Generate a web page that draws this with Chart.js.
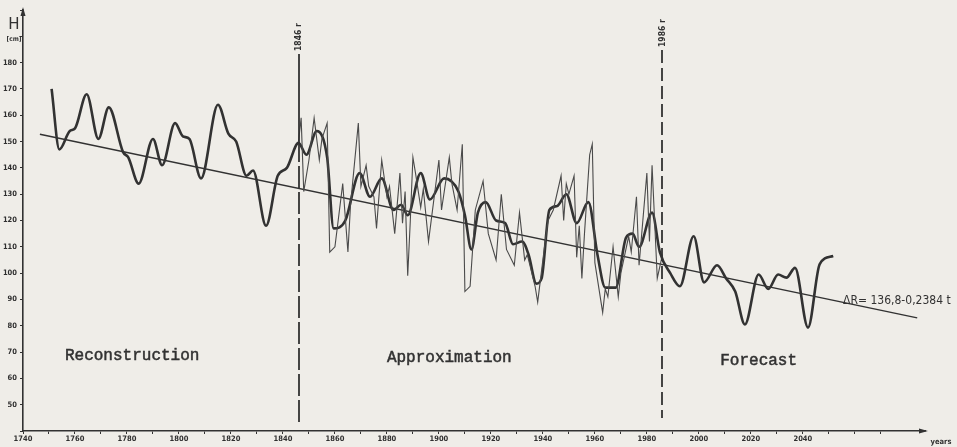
<!DOCTYPE html>
<html>
<head>
<meta charset="utf-8">
<script src="https://cdn.jsdelivr.net/npm/chart.js@4.4.1/dist/chart.umd.min.js"></script>
<style>
  body { margin: 0; background: #efede8; }
  canvas { display: block; }
</style>
</head>
<body>
<canvas id="myChart" width="957" height="447"></canvas>
<script>
// smoothed water level H [cm]: reconstruction, approximation, forecast
const smoothYears = [1751, 1754, 1758, 1760, 1764.5, 1769, 1773, 1778.5, 1780.5, 1784.5, 1790, 1793.5,
  1798.5, 1801.5, 1804, 1808.5, 1815, 1819, 1822, 1826, 1828.5, 1833.5, 1838, 1841.5, 1846, 1849,
  1853, 1857, 1859.5, 1864, 1869.5, 1873.5, 1878, 1882.5, 1885.5, 1888, 1893, 1896.5, 1902, 1907.5,
  1910, 1912.5, 1915, 1918, 1922, 1925.5, 1928.5, 1932, 1934.5, 1937.5, 1939.5, 1942.5, 1945.5, 1949,
  1953, 1957.5, 1961, 1964, 1968, 1972, 1974.5, 1977, 1982, 1985, 1989, 1992.7, 1998, 2002, 2007,
  2010.5, 2014, 2017.7, 2023, 2026.7, 2030.5, 2033.7, 2037, 2042, 2046.5, 2051.7];
const smoothValues = [170, 147, 154, 155, 168, 151, 163, 146, 144, 134, 151, 141,
  157, 152, 151, 136, 164, 153, 150, 137, 139, 118, 137, 140, 149.5, 145,
  154, 144, 117, 120, 138, 129, 136, 124, 126, 122, 138, 128, 136, 131,
  122, 109, 123, 127, 120, 119, 111, 112, 107, 96, 98, 124, 125.5, 130,
  119, 127, 107, 94.5, 94.5, 113.5, 115, 110, 123, 108, 100, 95, 114, 96.5, 103,
  98, 93, 80.5, 99.5, 94, 99.5, 98.3, 102, 79.3, 103.4, 106.5];

// observed annual levels
const obsYears = [1846, 1847, 1848, 1850, 1852, 1854, 1855, 1857, 1858, 1860, 1861, 1863, 1865, 1866,
  1869, 1870, 1872, 1873, 1875, 1876, 1878, 1880, 1881, 1883, 1885, 1886, 1887, 1888, 1889, 1890,
  1891, 1893, 1894, 1896, 1900, 1901, 1904, 1905, 1907, 1909, 1910, 1912, 1914, 1917, 1919, 1922,
  1924, 1926, 1929, 1931, 1933, 1934, 1937, 1938, 1941, 1942, 1944, 1947, 1948, 1949, 1950, 1952,
  1953, 1954, 1955, 1956, 1958, 1959, 1960, 1963, 1964, 1965, 1967, 1969, 1970, 1973, 1974, 1976,
  1977, 1980, 1981, 1982, 1984, 1986];
const obsValues = [150, 159, 131, 143, 159, 143, 151, 157, 108, 110, 118, 134, 108, 126,
  157, 133, 141, 133, 129, 117, 143, 129, 133, 115, 138, 119, 131, 99, 120, 144,
  138, 125, 132, 112, 143, 124, 144, 134, 124, 149, 93, 95, 124, 135, 115, 105,
  130, 109, 103, 123, 105, 107, 95, 89, 113, 120, 124, 137, 120, 134, 130, 137,
  106, 118, 98, 115, 145, 149, 104, 85, 94, 91, 110, 91, 100, 114, 108, 129,
  103, 138, 112, 141, 98, 107];

// linear trend  ΔR = 136,8 - 0,2384 t
const trendYears = [1746.5, 2084];
const trendValues = [152.8, 83];

const markYears = [1846, 1986];
const markLabels = ['1846 r', '1986 r'];
const sectionNames = ['Reconstruction', 'Approximation', 'Forecast'];

const ink = '#323232';

function pts(xs, ys) {
  return xs.map((x, i) => ({ x: x, y: ys[i] }));
}

const decor = {
  id: 'decor',
  afterDraw(chart) {
    const ctx = chart.ctx;
    const xs = chart.scales.x, ys = chart.scales.y, area = chart.chartArea;
    ctx.save();
    ctx.strokeStyle = ink;
    ctx.fillStyle = ink;

    // vertical boundary lines
    ctx.lineWidth = 1.8;
    let x = Math.round(xs.getPixelForValue(markYears[0]));
    ctx.beginPath(); ctx.moveTo(x, 54); ctx.lineTo(x, 140); ctx.stroke();
    ctx.setLineDash([22, 4]);
    ctx.beginPath(); ctx.moveTo(x, 140); ctx.lineTo(x, 424); ctx.stroke();
    x = Math.round(xs.getPixelForValue(markYears[1]));
    ctx.setLineDash([13, 5]);
    ctx.beginPath(); ctx.moveTo(x, 50); ctx.lineTo(x, 418); ctx.stroke();
    ctx.setLineDash([]);

    ctx.font = 'bold 8.5px "DejaVu Sans Condensed", "DejaVu Sans", sans-serif';
    ctx.textAlign = 'left';
    ctx.textBaseline = 'middle';
    markYears.forEach((yr, i) => {
      const px = xs.getPixelForValue(yr);
      ctx.save();
      ctx.translate(px, i === 0 ? 51 : 47);
      ctx.rotate(-Math.PI / 2);
      ctx.fillText(markLabels[i], 0, 0);
      ctx.restore();
    });

    // arrows at axis ends
    ctx.beginPath();
    ctx.moveTo(area.left, area.top - 3);
    ctx.lineTo(area.left - 2.5, area.top + 6);
    ctx.lineTo(area.left + 2.5, area.top + 6);
    ctx.closePath(); ctx.fill();
    ctx.beginPath();
    ctx.moveTo(area.right + 3, area.bottom);
    ctx.lineTo(area.right - 6, area.bottom - 2.5);
    ctx.lineTo(area.right - 6, area.bottom + 2.5);
    ctx.closePath(); ctx.fill();

    // axis titles
    ctx.textAlign = 'center';
    ctx.textBaseline = 'alphabetic';
    ctx.font = '15px "DejaVu Sans", sans-serif';
    ctx.fillText('H', 14, 29);
    ctx.font = 'bold 6.5px "DejaVu Sans Condensed", "DejaVu Sans", sans-serif';
    ctx.fillText('[cm]', 14, 41);
    ctx.font = 'bold 7.5px "DejaVu Sans Condensed", "DejaVu Sans", sans-serif';
    ctx.fillText('years', 941, 444);

    // section names
    ctx.font = '16px "Liberation Mono", "DejaVu Sans Mono", monospace';
    ctx.textBaseline = 'middle';
    ctx.lineWidth = 0.5;
    const names = [[1782, 68.5], [1904, 67.8], [2023, 66.6]];
    names.forEach((p, i) => {
      const px = xs.getPixelForValue(p[0]), py = ys.getPixelForValue(p[1]);
      ctx.fillText(sectionNames[i], px, py);
      ctx.strokeText(sectionNames[i], px, py);
    });

    // trend equation
    ctx.textAlign = 'left';
    ctx.font = '12px "DejaVu Sans Condensed", "DejaVu Sans", sans-serif';
    ctx.fillText('\u0394R= 136,8-0,2384 t', xs.getPixelForValue(2055.5), ys.getPixelForValue(89.5));
    ctx.restore();
  }
};

const ctx = document.getElementById('myChart').getContext('2d');
const myChart = new Chart(ctx, {
  type: 'line',
  data: {
    datasets: [{
      label: 'observed',
      data: pts(obsYears, obsValues),
      borderColor: '#4a4a4a',
      borderWidth: 1.1,
      pointRadius: 0,
      tension: 0
    }, {
      label: 'smoothed',
      data: pts(smoothYears, smoothValues),
      borderColor: ink,
      borderWidth: 2.6,
      pointRadius: 0,
      cubicInterpolationMode: 'monotone'
    }, {
      label: 'trend',
      data: pts(trendYears, trendValues),
      borderColor: ink,
      borderWidth: 1.4,
      pointRadius: 0
    }]
  },
  options: {
    responsive: false,
    animation: false,
    layout: { padding: { top: 10, right: 32, left: 0, bottom: 0 } },
    plugins: { legend: { display: false }, tooltip: { enabled: false } },
    scales: {
      x: {
        type: 'linear',
        min: 1740,
        max: 2087,
        afterFit: function (scale) { scale.height = 16; },
        afterBuildTicks: function (scale) {
          const t = [];
          for (let v = 1740; v <= 2070; v += 10) t.push({ value: v });
          scale.ticks = t;
        },
        grid: { drawOnChartArea: false, drawTicks: true, tickLength: 3, color: ink },
        border: { display: true, color: ink, width: 1.6 },
        ticks: {
          maxRotation: 0,
          autoSkip: false,
          padding: 1,
          color: '#2f2f2f',
          font: { family: '"DejaVu Sans Condensed", "DejaVu Sans", sans-serif', size: 7.5, weight: 'bold' },
          callback: function (v) { return (v % 20 === 0 && v <= 2040) ? String(v) : ''; }
        }
      },
      y: {
        min: 40,
        max: 200,
        afterFit: function (scale) { scale.width = 23; },
        grid: { drawOnChartArea: false, drawTicks: true, tickLength: 3, color: ink },
        border: { display: true, color: ink, width: 1.6 },
        ticks: {
          stepSize: 10,
          padding: 3,
          color: '#2f2f2f',
          font: { family: '"DejaVu Sans Condensed", "DejaVu Sans", sans-serif', size: 7.5, weight: 'bold' },
          callback: function (v) { return (v >= 50 && v <= 180) ? String(v) : ''; }
        }
      }
    }
  },
  plugins: [decor]
});
</script>
</body>
</html>
